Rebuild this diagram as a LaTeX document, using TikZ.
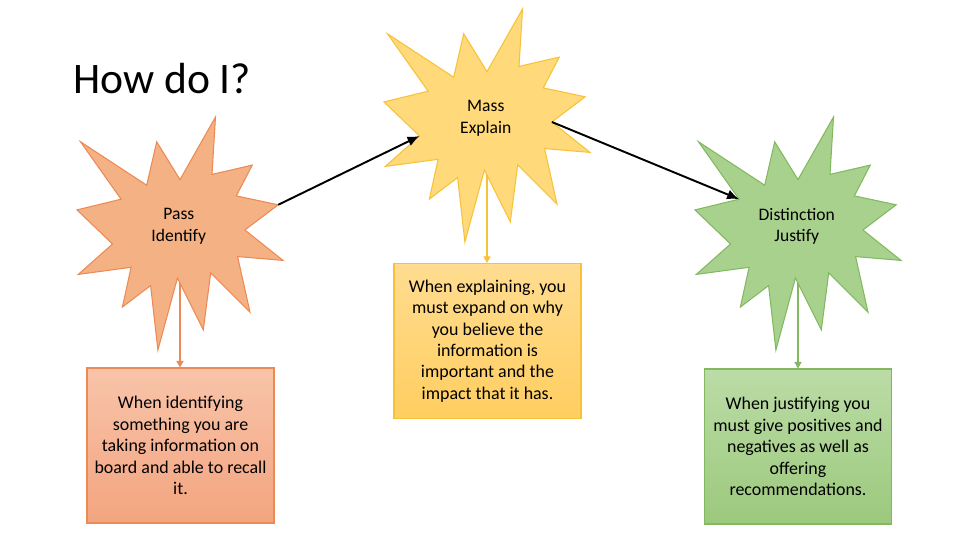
\documentclass[tikz,border=0pt]{standalone}
\usepackage{fontspec}
\setmainfont{Carlito}
\usetikzlibrary{arrows.meta}

\definecolor{passfill}{HTML}{F4B183}
\definecolor{passline}{HTML}{EC8A55}
\definecolor{passtop}{HTML}{F8C4AA}
\definecolor{passbot}{HTML}{F3A47F}
\definecolor{massfill}{HTML}{FFD97A}
\definecolor{massline}{HTML}{F7C23A}
\definecolor{masstop}{HTML}{FFDC90}
\definecolor{massbot}{HTML}{FFCE60}
\definecolor{distfill}{HTML}{A9D18E}
\definecolor{distline}{HTML}{82B860}
\definecolor{disttop}{HTML}{BBDCA6}
\definecolor{distbot}{HTML}{9CC97D}

% explosion shape, drawn from its top left corner (206 x 233 px)
\tikzset{
  seal/.pic={
    \path[pic actions] (103,62.6) -- (138.5,0) -- (135,57.4) -- (175.3,48.1)
      -- (159.3,78.9) -- (201.2,87.8) -- (167.9,113) -- (206,143.4)
      -- (160.6,139.6) -- (173,195.2) -- (133.7,155.9) -- (126.3,212.9)
      -- (100.4,161.1) -- (80.9,233) -- (73.6,168.6) -- (45.4,190)
      -- (54.1,150.3) -- (1.3,157.4) -- (35.5,127) -- (0,92.9)
      -- (44.1,82.2) -- (3.5,24.8) -- (69.7,68.2) -- (79.7,24.8) -- cycle;
    \coordinate (-c) at (101.8,109.3);
    \coordinate (-s) at (103,166);
    \coordinate (-e) at (201.2,87.8);
    \coordinate (-w) at (35.5,127);
    \coordinate (-ee) at (167.9,113);
    \coordinate (-ww) at (44.1,82.2);
  }
}

\begin{document}
\begin{tikzpicture}[
  x=0.02cm, y=-0.02cm,
  lbl/.style={font=\fontsize{10}{12.2}\selectfont, align=center, inner sep=0pt},
  box/.style={draw, line width=0.6pt, minimum width=3.74cm, minimum height=3.1cm, align=center, inner sep=0pt, font=\fontsize{10.2}{12.2}\selectfont},
  arr/.style={-{Latex[length=2.4mm,width=2mm]}, line width=1.1pt},
  down/.style={-{Triangle[length=1.3mm,width=1.4mm]}, line width=0.8pt}
]
\useasboundingbox (0,0) rectangle (960,540);

\node[anchor=west, inner sep=0pt, font=\fontsize{24.8}{28}\selectfont] (title) at (73,79) {How do I?};

\pic[fill=passfill, draw=passline, line width=0.6pt] (pass) at (77,117) {seal};
\pic[fill=massfill, draw=massline, line width=0.6pt] (mass) at (384,9) {seal};
\pic[fill=distfill, draw=distline, line width=0.6pt] (dist) at (695,117) {seal};

\node[lbl] (passtxt) at (pass-c) {Pass\\Identify};
\node[lbl] (masstxt) at (mass-c) {Mass\\Explain};
\node[lbl] (disttxt) at (dist-c) {Distinction\\Justify};

\node[box, draw=passline, top color=passtop, bottom color=passbot] (passbox) at (180.5,445.5)
  {When identifying\\something you are\\taking information on\\board and able to recall\\it.};
\node[box, draw=massline, top color=masstop, bottom color=massbot] (massbox) at (487.5,341)
  {When explaining, you\\must expand on why\\you believe the\\information is\\important and the\\impact that it has.};
\node[box, draw=distline, top color=disttop, bottom color=distbot] (distbox) at (798,446.5)
  {When justifying you\\must give positives and\\negatives as well as\\offering\\recommendations.};

\draw[arr] (pass-e) -- (mass-w);
\draw[arr] (mass-ee) -- (dist-ww);
\draw[down, draw=passline, fill=passline] (pass-s) -- (pass-s |- passbox.north);
\draw[down, draw=massline, fill=massline] (mass-s) -- (mass-s |- massbox.north);
\draw[down, draw=distline, fill=distline] (dist-s) -- (dist-s |- distbox.north);
\end{tikzpicture}
\end{document}
